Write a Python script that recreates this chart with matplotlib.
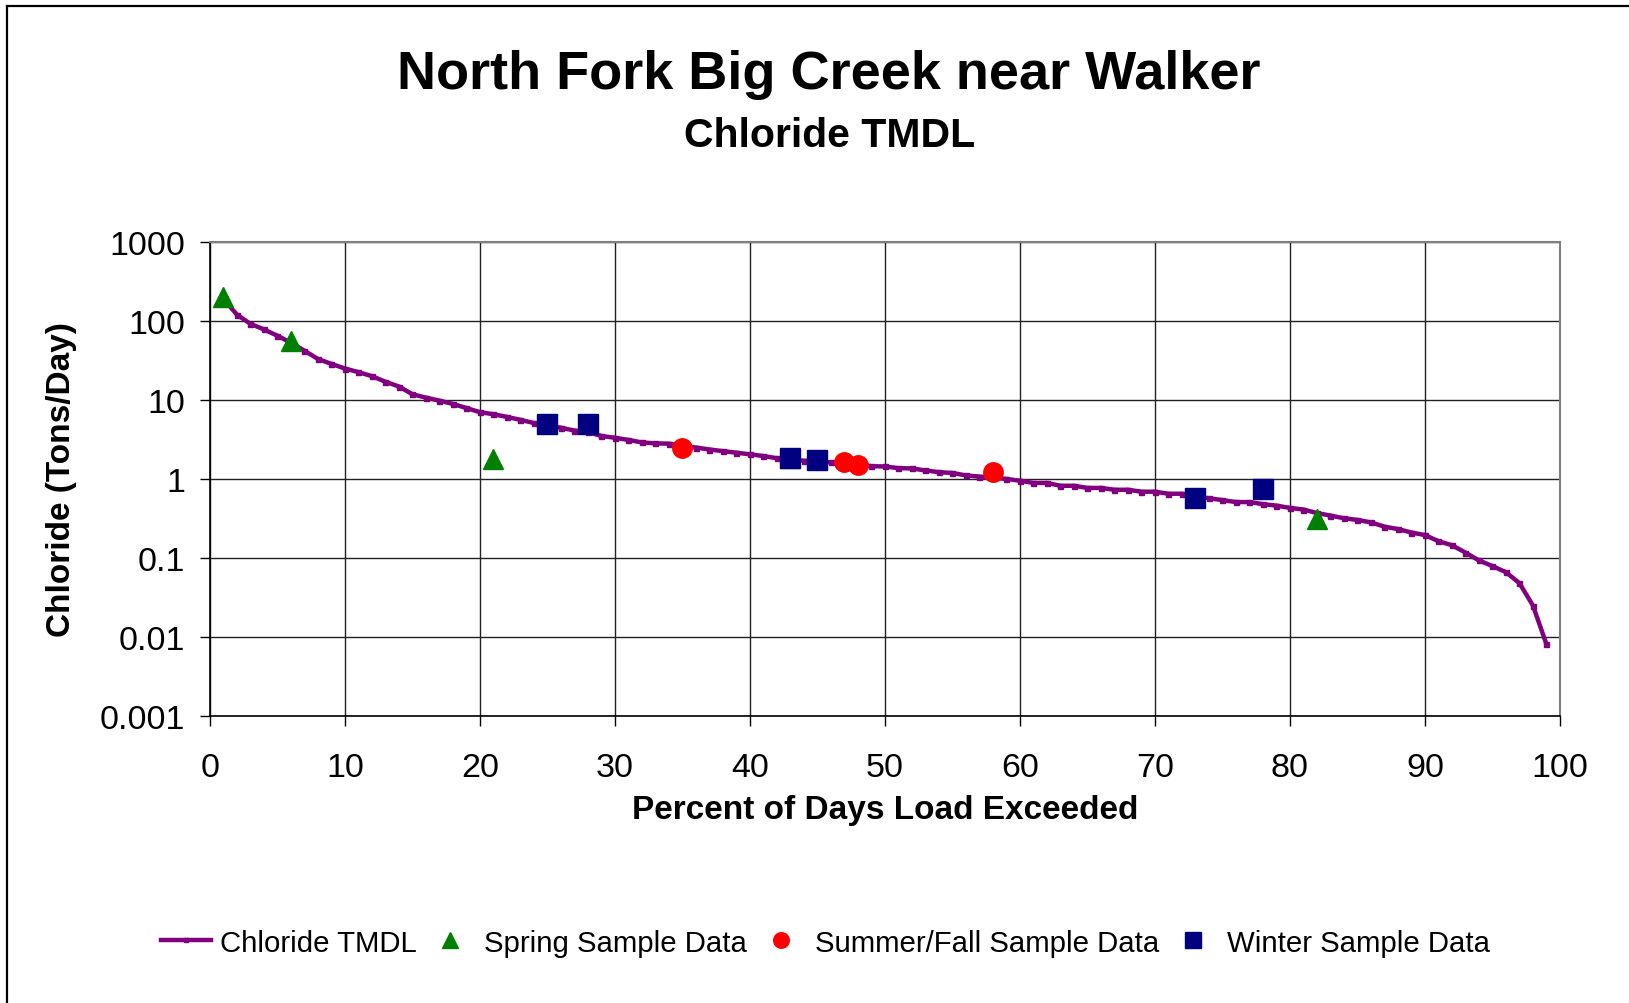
import numpy as np
import matplotlib
matplotlib.use("Agg")
import matplotlib.pyplot as plt
from matplotlib.lines import Line2D

plt.rcParams['font.family'] = ['Liberation Sans', 'DejaVu Sans']

# load duration curve (percent of days exceeded vs tons/day)
tmdl_pct = list(range(1, 100))
tmdl_load = [190, 120, 92, 78, 65, 53, 42, 33, 28.6, 25,
             22.5, 20, 17, 14.8, 11.8, 10.7, 9.8, 8.9, 7.9, 7.0,
             6.6, 6.1, 5.6, 5.1, 4.75, 4.45, 4.1, 3.9, 3.5, 3.32,
             3.12, 2.9, 2.82, 2.8, 2.6, 2.5, 2.36, 2.25, 2.15, 2.05,
             1.95, 1.83, 1.76, 1.7, 1.66, 1.62, 1.58, 1.52, 1.45, 1.44,
             1.37, 1.36, 1.28, 1.22, 1.19, 1.11, 1.07, 1.04, 1.0, 0.95,
             0.89, 0.89, 0.82, 0.82, 0.77, 0.77, 0.73, 0.73, 0.69, 0.69,
             0.65, 0.65, 0.6, 0.57, 0.54, 0.51, 0.51, 0.48, 0.46, 0.43,
             0.41, 0.37, 0.344, 0.318, 0.303, 0.282, 0.249, 0.232, 0.21, 0.195,
             0.163, 0.145, 0.117, 0.093, 0.079, 0.066, 0.048, 0.025, 0.0081]

# sample data by season
spring_pct = [1, 6, 21, 43, 82]
spring_load = [200, 56, 1.8, 1.83, 0.31]
summer_pct = [35, 47, 48, 58]
summer_load = [2.5, 1.62, 1.51, 1.21]
winter_pct = [25, 28, 43, 45, 73, 78]
winter_load = [5.0, 5.0, 1.83, 1.73, 0.58, 0.75]

yticks = [0.001, 0.01, 0.1, 1, 10, 100, 1000]
ytick_labels = ['0.001', '0.01', '0.1', '1', '10', '100', '1000']

fig = plt.figure(figsize=(16.29, 10.04), dpi=100)
ax = fig.add_axes([0.1289, 0.2859, 0.8287, 0.4721])

ax.plot(tmdl_pct, tmdl_load, color='#800080', lw=3.2, marker='s', ms=3.6,
        label='Chloride TMDL', zorder=3)
ax.plot(spring_pct, spring_load, ls='none', marker='^', ms=14, color='#008000',
        label='Spring Sample Data', zorder=4)
ax.plot(summer_pct, summer_load, ls='none', marker='o', ms=14, color='#ff0000',
        label='Summer/Fall Sample Data', zorder=5)
ax.plot(winter_pct, winter_load, ls='none', marker='s', ms=14, color='#000080',
        label='Winter Sample Data', zorder=6)

ax.set_yscale('log')
ax.set_ylim(0.001, 1000)
ax.set_xlim(0, 100)
ax.set_xticks(range(0, 101, 10))
ax.set_yticks(yticks)
ax.set_yticklabels(ytick_labels)
ax.minorticks_off()
ax.grid(True, color='#222222', lw=1.0)
ax.set_axisbelow(True)

ax.tick_params(axis='both', labelsize=24.5, length=7, width=1.0, direction='out')
ax.tick_params(axis='y', pad=11)
ax.tick_params(axis='x', pad=19)
for side in ['left', 'bottom']:
    ax.spines[side].set_color('black')
    ax.spines[side].set_linewidth(1.2)
for side in ['top', 'right']:
    ax.spines[side].set_color('#808080')
    ax.spines[side].set_linewidth(1.5)

ax.set_xlabel('Percent of Days Load Exceeded', fontsize=24, fontweight='bold', labelpad=8)
ax.set_ylabel('Chloride (Tons/Day)', fontsize=24, fontweight='bold', labelpad=16)

fig.text(0.509, 0.925, 'North Fork Big Creek near Walker', ha='center', va='center',
         fontsize=39, fontweight='bold')
fig.text(0.509, 0.865, 'Chloride TMDL', ha='center', va='center',
         fontsize=29.5, fontweight='bold')

fig.legend(loc='center', bbox_to_anchor=(0.5066, 0.060), ncol=4, frameon=False,
           fontsize=21.2, handlelength=1.7, handletextpad=0.3, columnspacing=0.3,
           numpoints=1, markerscale=0.8)

# outer chart border (only left and top edges visible)
fig.add_artist(Line2D([0.0046, 0.0046], [0.0, 0.9935], transform=fig.transFigure,
                      color='black', lw=1.6))
fig.add_artist(Line2D([0.0046, 1.0], [0.9935, 0.9935], transform=fig.transFigure,
                      color='black', lw=1.6))

fig.savefig('out.png', dpi=100)
